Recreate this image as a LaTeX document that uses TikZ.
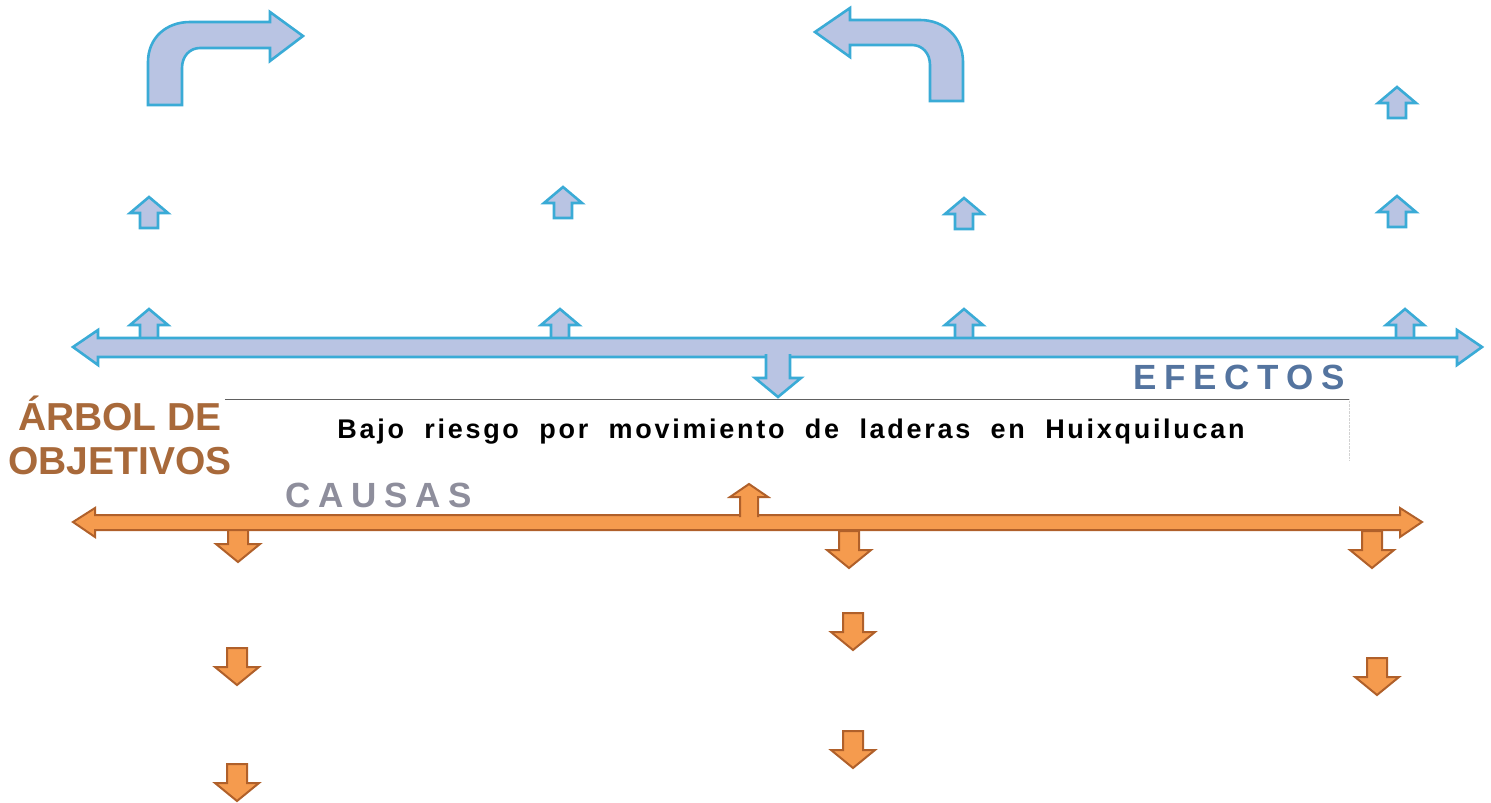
\documentclass[tikz,border=0pt]{standalone}
\usepackage{fontspec}
\setmainfont{Liberation Sans}
\newfontfamily\goalfont[LetterSpace=10,WordSpace=2]{Liberation Sans}
\newfontfamily\headfont[LetterSpace=22]{Liberation Sans}
\definecolor{bluefill}{HTML}{B9C4E3}
\definecolor{blueedge}{HTML}{3AABD6}
\definecolor{orgfill}{HTML}{F59B4E}
\definecolor{orgedge}{HTML}{B0602A}
\definecolor{titlebrown}{HTML}{A8693A}
\definecolor{causegray}{HTML}{8E8E9C}
\definecolor{effblue}{HTML}{54749F}
\tikzset{
    %Define style for the block arrows
    bluebk/.style={
           draw=blueedge,
           fill=bluefill,
           line width=2.6pt,
           line join=miter},
    orgbk/.style={
           draw=orgedge,
           fill=orgfill,
           line width=2pt,
           line join=miter},
    % small arrows, placed at the foot of the shaft
    pics/upbk/.style={code={
           \draw[bluebk] (-9,0) -- (-9,-15) -- (-19,-15) -- (0,-31) -- (19,-15) -- (9,-15) -- (9,0) -- cycle;}},
    pics/downbk/.style={code={
           \draw[orgbk] (-10,0) -- (-10,19) -- (-22,19) -- (0,37) -- (22,19) -- (10,19) -- (10,0) -- cycle;}},
    % Define style for the headings
    heading/.style={
           inner sep=0pt,
           font=\headfont\bfseries\fontsize{35}{40}\selectfont}
}
\begin{document}
\begin{tikzpicture}[x=1pt, y=-1pt]
    \useasboundingbox (0,0) rectangle (1491,803);
 %effects
    \draw[bluebk] (148,105) -- (148,62) .. controls (148,38) and (166,22) .. (190,22)
        -- (270,22) -- (270,12) -- (303,36) -- (270,61) -- (270,48) -- (200,48)
        .. controls (190,48) and (182,56) .. (182,68) -- (182,105) -- cycle;
    \draw[bluebk] (963,101) -- (963,62) .. controls (963,38) and (945,20) .. (920,20)
        -- (850,20) -- (850,8) -- (815,32) -- (850,57) -- (850,45) -- (912,45)
        .. controls (922,45) and (930,53) .. (930,65) -- (930,101) -- cycle;
    \pic (e1a) at (149,228) {upbk};
    \pic (e2a) at (563,218) {upbk};
    \pic (e3a) at (964,229) {upbk};
    \pic (e4a) at (1397,118) {upbk};
    \pic (e4b) at (1397,227) {upbk};
    \pic (e1b) at (149,340) {upbk};
    \pic (e2b) at (560,340) {upbk};
    \pic (e3b) at (964,340) {upbk};
    \pic (e4c) at (1405,340) {upbk};
    \draw[bluebk] (73,347) -- (98,330) -- (98,338) -- (1457,338) -- (1457,330) -- (1482,347)
        -- (1457,365) -- (1457,357) -- (98,357) -- (98,365) -- cycle;
    \filldraw[bluebk] (766,354) -- (766,378) -- (755,378) -- (778,397) -- (801,378) -- (790,378) -- (790,354);
 %goal
    \node[minimum width=1124pt, minimum height=61pt, inner sep=0pt] (goal) at (787,430) {};
    \node[font=\goalfont\bfseries\fontsize{27}{31}\selectfont] (goaltext) at (791,432)
        {Bajo riesgo por movimiento de laderas en Huixquilucan};
    \draw[gray!75!black, line width=1.2pt] (goal.north west) -- (goal.north east);
    \draw[gray!35, densely dotted] (goal.north east) -- (goal.south east);
    \node[heading, text=effblue] (efectos) at (1239,377) {EFECTOS};
    \node[align=center, text=titlebrown, inner sep=0pt,
          font=\bfseries\fontsize{39}{44}\selectfont] (titulo) at (120,435) {ÁRBOL DE\\OBJETIVOS};
    \node[heading, text=causegray] (causas) at (379,495) {CAUSAS};
 %causes
    \pic (c1a) at (238,525) {downbk};
    \pic (c2a) at (849,531) {downbk};
    \pic (c3a) at (1372,531) {downbk};
    \pic (c1b) at (237,648) {downbk};
    \pic (c1c) at (237,764) {downbk};
    \pic (c2b) at (853,613) {downbk};
    \pic (c2c) at (853,731) {downbk};
    \pic (c3b) at (1377,658) {downbk};
    \draw[orgbk] (73,522) -- (95,508) -- (95,515) -- (1400,515) -- (1400,508) -- (1422,522)
        -- (1400,537) -- (1400,530) -- (95,530) -- (95,537) -- cycle;
    \filldraw[orgbk] (740,517) -- (740,497) -- (730,497) -- (749,484) -- (768,497) -- (758,497) -- (758,517);
\end{tikzpicture}
\end{document}
